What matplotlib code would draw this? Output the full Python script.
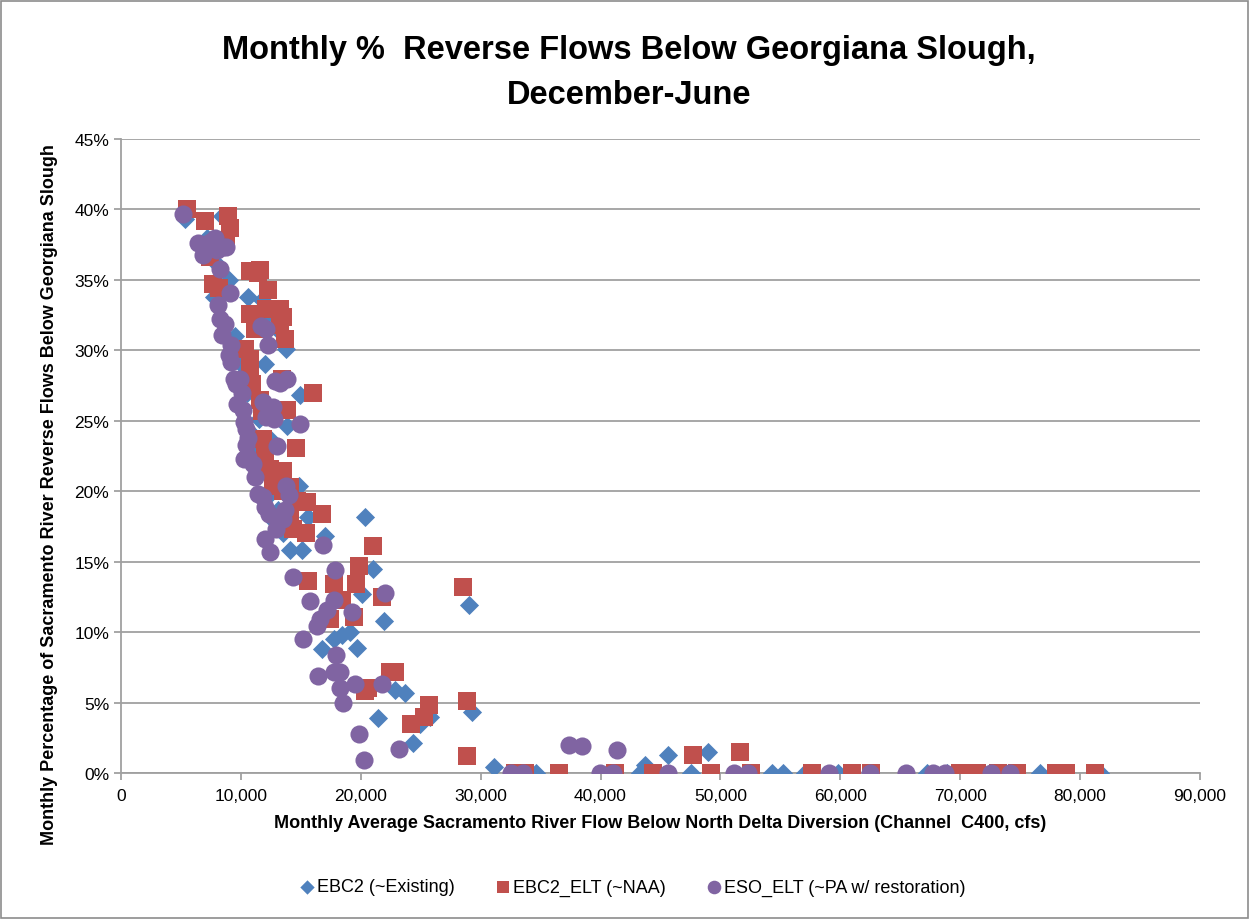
import matplotlib
matplotlib.use("Agg")
import matplotlib.pyplot as plt
from matplotlib import font_manager
from matplotlib.ticker import PercentFormatter, FuncFormatter, MultipleLocator
from matplotlib.patches import Rectangle

names = {f.name for f in font_manager.fontManager.ttflist}
FONT = "Liberation Sans Narrow" if "Liberation Sans Narrow" in names else "Liberation Sans"

# ---- data: x = flow (cfs), y = % reverse flows ----
ebc2_x = [5340, 8430, 7840, 7760, 10590, 11760, 12010, 13260, 13760, 12010, 11510, 13850,
          14930, 12430, 11760, 13090, 14850, 12340, 13090, 13930, 12600, 14100, 15100, 15600,
          17020, 20350, 21020, 20100, 21940, 19690, 16770, 17800, 18400, 19100, 21440, 22850,
          23690, 24360, 24940, 25770, 29030, 29280, 31110, 34610, 43290, 43700, 45630, 47540,
          48960, 54300, 55220, 57050, 59800, 67230, 68900, 73820, 76650, 81660,
          6500, 7200, 9000, 9500, 10000, 10500, 11000, 11200, 12500, 13500]
ebc2_y = [39.3, 39.5, 36.3, 33.8, 33.8, 33.6, 32.4, 31.3, 30.1, 29.0, 25.1, 24.6,
          26.8, 23.7, 21.4, 20.7, 20.4, 19.7, 18.7, 18.4, 18.0, 15.8, 15.8, 18.2,
          16.8, 18.2, 14.5, 12.7, 10.8, 8.9, 8.8, 9.5, 9.8, 10.0, 3.9, 5.9,
          5.7, 2.1, 3.5, 4.0, 11.9, 4.3, 0.4, 0.0, 0.0, 0.6, 1.3, 0.0,
          1.5, 0.0, 0.0, 0.0, 0.0, 0.0, 0.0, 0.0, 0.0, 0.0,
          37.5, 38.0, 35.0, 31.0, 29.0, 27.0, 24.0, 22.5, 21.5, 17.0]

elt_x = [5500, 7010, 8930, 9090, 8760, 7420, 7670, 8180, 10760, 11430, 11590, 12260,
         12090, 13260, 13510, 13260, 13680, 10760, 11180, 10340, 10760, 10760, 10920, 13430,
         11590, 11760, 13850, 16010, 14600, 11840, 12010, 12430, 13510, 13510, 12680, 14100,
         14680, 15520, 16770, 14100, 14350, 15430, 15600, 17770, 18440, 19850, 19600, 21020,
         21770, 19440, 17430, 28530, 22850, 22440, 20600, 20350, 25690, 25270, 24190, 28860,
         28860, 32860, 33700, 36530, 41200, 44370, 47710, 49210, 51630, 52550, 57630, 60970,
         62560, 69980, 71400, 73150, 74740, 77990, 78820, 81240]
elt_y = [40.0, 39.2, 39.5, 38.7, 37.8, 36.6, 34.7, 34.4, 35.6, 35.5, 35.7, 34.3,
         32.9, 32.9, 32.4, 31.8, 30.8, 32.6, 31.5, 30.1, 29.4, 28.3, 27.6, 28.0,
         26.5, 25.7, 25.8, 27.0, 23.1, 23.7, 22.6, 21.6, 21.4, 20.0, 20.4, 20.3,
         19.3, 19.2, 18.4, 18.4, 17.3, 17.0, 13.6, 13.4, 12.3, 14.7, 13.4, 16.1,
         12.5, 11.1, 10.9, 13.2, 7.2, 7.2, 6.0, 5.8, 4.8, 4.0, 3.5, 5.1,
         1.2, 0.0, 0.0, 0.0, 0.0, 0.0, 1.3, 0.0, 1.5, 0.0, 0.0, 0.0,
         0.0, 0.0, 0.0, 0.0, 0.0, 0.0, 0.0, 0.0]

eso_x = [5170, 6420, 6840, 7420, 7840, 8010, 8510, 8760, 8260, 8090, 8260, 8430,
         8680, 9090, 9010, 9180, 9180, 9430, 9590, 9930, 10090, 9680, 10180, 10260,
         10430, 10590, 10430, 10260, 10590, 11010, 11180, 11430, 11840, 12010, 12340, 12010,
         12430, 12940, 13510, 13680, 14010, 13760, 12090, 11840, 12260, 12090, 11680, 12680,
         12850, 13260, 13850, 13010, 12760, 14350, 14930, 15180, 15770, 16350, 16600, 17180,
         16850, 17850, 17770, 17930, 16430, 17770, 18260, 18260, 18520, 19270, 19520, 19850,
         20270, 22020, 21770, 23190, 37370, 38450, 41370, 32530, 33530, 39950, 41040, 45630,
         51130, 52300, 59050, 62470, 65480, 67730, 68730, 72570, 74150]
eso_y = [39.7, 37.6, 36.8, 37.7, 38.0, 37.1, 37.3, 37.3, 35.8, 33.2, 32.2, 31.1,
         31.9, 34.1, 29.7, 30.4, 29.2, 28.0, 27.6, 28.0, 27.0, 26.2, 25.8, 24.9,
         24.4, 23.8, 23.3, 22.3, 22.4, 21.9, 21.0, 19.8, 19.6, 18.9, 18.4, 16.6,
         15.7, 17.3, 18.0, 18.7, 19.7, 20.4, 25.3, 26.3, 30.4, 31.5, 31.7, 26.0,
         27.8, 27.7, 28.0, 23.2, 25.1, 13.9, 24.8, 9.5, 12.2, 10.4, 10.9, 11.6,
         16.2, 14.4, 12.3, 8.4, 6.9, 7.2, 7.2, 6.0, 5.0, 11.4, 6.3, 2.8,
         0.9, 12.8, 6.3, 1.7, 2.0, 1.9, 1.6, 0.0, 0.0, 0.0, 0.0, 0.0,
         0.0, 0.0, 0.0, 0.0, 0.0, 0.0, 0.0, 0.0, 0.0]

labels = ["EBC2 (~Existing)", "EBC2_ELT (~NAA)", "ESO_ELT (~PA w/ restoration)"]
colors = ["#4F81BD", "#C0504D", "#8064A2"]
x_ticks = list(range(0, 90001, 10000))

plt.rcParams['font.family'] = [FONT, 'DejaVu Sans']

fig = plt.figure(figsize=(12.51, 9.20), dpi=100)
ax = fig.add_axes([121/1251, 1-774/920, (1200-121)/1251, (774-140)/920])

ax.scatter(ebc2_x, ebc2_y, marker='D', s=95, color=colors[0], label=labels[0], zorder=3, linewidths=0)
ax.scatter(elt_x, elt_y, marker='s', s=150, color=colors[1], label=labels[1], zorder=4, linewidths=0)
ax.scatter(eso_x, eso_y, marker='o', s=170, color=colors[2], label=labels[2], zorder=5, linewidths=0)

ax.set_xlim(0, 90000)
ax.set_ylim(0, 45)
ax.set_xticks(x_ticks)
ax.xaxis.set_major_formatter(FuncFormatter(lambda v, p: f"{int(v):,}"))
ax.yaxis.set_major_locator(MultipleLocator(5))
ax.yaxis.set_major_formatter(PercentFormatter(100, decimals=0))
ax.grid(axis='y', color='#A0A0A0', lw=1.3)
ax.set_axisbelow(True)
for s in ['top', 'right']:
    ax.spines[s].set_visible(False)
for s in ['left', 'bottom']:
    ax.spines[s].set_color('#A0A0A0')
    ax.spines[s].set_linewidth(1.3)
ax.tick_params(axis='both', colors='#A0A0A0', labelcolor='black', labelsize=12.5, length=5, width=1.3)
ax.tick_params(axis='x', pad=6)

ax.set_xlabel("Monthly Average Sacramento River Flow Below North Delta Diversion (Channel  C400, cfs)",
              fontsize=13, fontweight='bold', labelpad=8)
ax.set_ylabel("Monthly Percentage of Sacramento River Reverse Flows Below Georgiana Slough",
              fontsize=13, fontweight='bold')
ax.yaxis.set_label_coords(-0.058, 0.44)

fig.text(0.503, 1-50/920, "Monthly %  Reverse Flows Below Georgiana Slough,", ha='center', va='center',
         fontsize=23.5, fontweight='bold')
fig.text(0.503, 1-95/920, "December-June", ha='center', va='center', fontsize=23.5, fontweight='bold')

fig.legend(loc='center', bbox_to_anchor=(0.505, 1-888/920), ncol=3, frameon=False, fontsize=13,
           handletextpad=0.05, columnspacing=2.2, markerscale=0.75, handlelength=1.0)

fig.patches.append(Rectangle((0.001, 0.001), 0.997, 0.997, transform=fig.transFigure, fill=False,
                             edgecolor='#8C8C8C', lw=1.2))

fig.savefig("out.png", dpi=100)
